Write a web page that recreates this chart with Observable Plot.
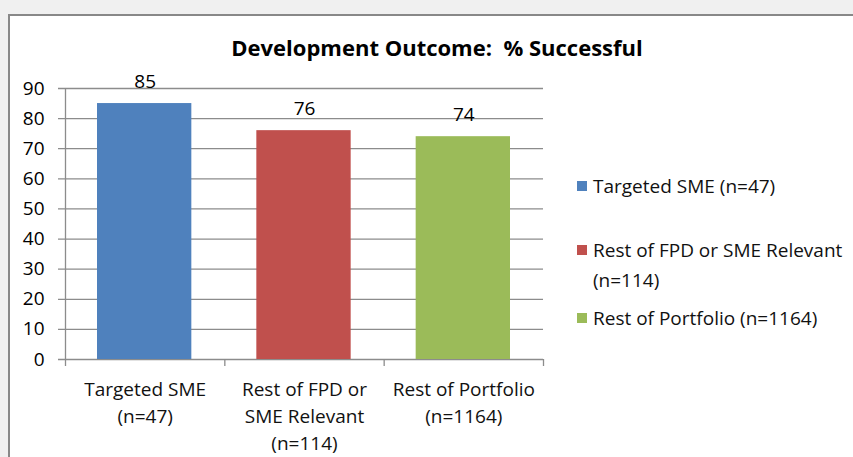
<!DOCTYPE html>
<html>
<head>
<meta charset="utf-8">
<script src="https://cdn.jsdelivr.net/npm/d3@7"></script>
<script src="https://cdn.jsdelivr.net/npm/@observablehq/plot@0.6"></script>
<style>
  html, body { margin: 0; padding: 0; background: #f0f0f0; width: 853px; height: 457px; overflow: hidden; }
  #wrap { position: relative; width: 853px; height: 457px; }
  #frame { position: absolute; left: 8px; top: 14px; width: 900px; height: 500px; background: #fff; border-left: 2px solid #888; border-top: 2px solid #888; }
  #chart { position: absolute; left: 0; top: 0; }
  #title { position: absolute; left: 0; width: 874px; top: 32px; line-height: 30px; text-align: center; font: bold 22px "Open Sans", sans-serif; white-space: pre; color: #000; }
  .leg { position: absolute; font: 19px "Open Sans", sans-serif; color: #111; line-height: 30px; width: 258px; }
  .sw { position: absolute; left: -16px; top: 10px; width: 10px; height: 10px; }
</style>
</head>
<body>
<div id="wrap">
  <div id="frame"></div>
  <div id="chart"></div>
  <div id="title"></div>
  <div id="legend"></div>
</div>
<script>
const title = "Development Outcome:  % Successful";
const categories = ["Targeted SME\n(n=47)", "Rest of FPD or\nSME Relevant\n(n=114)", "Rest of Portfolio\n(n=1164)"];
const legendLabels = ["Targeted SME (n=47)", "Rest of FPD or SME Relevant (n=114)", "Rest of Portfolio (n=1164)"];
const values = [85, 76, 74];
const colors = ["#4f81bd", "#c0504d", "#9bbb59"];
const yTicks = [0, 10, 20, 30, 40, 50, 60, 70, 80, 90];
const legendTops = [171, 235, 303];

const data = values.map((v, i) => ({i, v, cat: categories[i], color: colors[i]}));
const bounds = d3.range(categories.length + 1);
const gridColor = "#8c8c8c";

const plot = Plot.plot({
  width: 853,
  height: 457,
  marginLeft: 65,
  marginRight: 310,
  marginTop: 88,
  marginBottom: 98,
  style: {background: "transparent", fontFamily: "'Open Sans', sans-serif", fontSize: "19px", color: "#000"},
  x: {type: "linear", domain: [0, categories.length], axis: null},
  y: {domain: [0, 90], axis: null},
  marks: [
    Plot.ruleY(yTicks, {y: d => d, stroke: gridColor, strokeWidth: 1.3, insetLeft: -7}),
    Plot.text(yTicks, {y: d => d, frameAnchor: "left", dx: -21, textAnchor: "end", text: d => String(d), fill: "#000", fontSize: 19}),
    Plot.rectY(data, {x1: d => d.i, x2: d => d.i + 1, y: "v", fill: "color", insetLeft: 32, insetRight: 33}),
    Plot.text(data, {x: d => d.i + 0.5, y: "v", text: d => String(d.v), dy: -22, fill: "#000", fontSize: 19}),
    Plot.ruleX([0], {stroke: gridColor, strokeWidth: 1.3}),
    Plot.ruleX(bounds, {x: d => d, y1: 0, y2: 0, stroke: gridColor, strokeWidth: 1.3, insetBottom: -7}),
    Plot.text(data, {x: d => d.i + 0.5, y: 0, text: "cat", lineAnchor: "top", dy: 18, lineHeight: 1.4, fill: "#111", fontSize: 19})
  ]
});
document.getElementById("chart").appendChild(plot);
document.getElementById("title").textContent = title;

const leg = document.getElementById("legend");
legendLabels.forEach((lab, i) => {
  const d = document.createElement("div");
  d.className = "leg";
  d.style.left = "593px";
  d.style.top = legendTops[i] + "px";
  const s = document.createElement("div");
  s.className = "sw";
  s.style.background = colors[i];
  d.appendChild(s);
  d.appendChild(document.createTextNode(lab));
  leg.appendChild(d);
});
</script>
</body>
</html>
